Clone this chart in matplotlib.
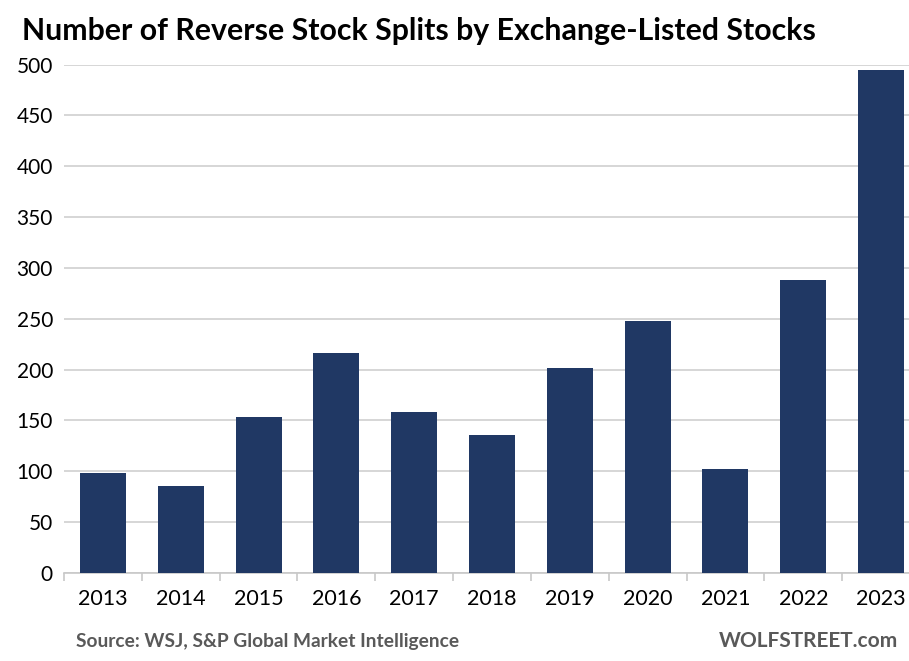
import matplotlib.pyplot as plt
import numpy as np

years = ['2013', '2014', '2015', '2016', '2017', '2018', '2019', '2020', '2021', '2022', '2023']
splits = [98, 85, 153, 216, 158, 136, 201, 248, 102, 288, 495]

plt.rcParams['font.family'] = ['Lato', 'DejaVu Sans']

fig = plt.figure(figsize=(9.09, 6.61), dpi=100)
# plot area runs a bit past the right edge, as in the cropped original
ax = fig.add_axes([64/909, 1 - 572.7/661, 856/909, (572.7-64.7)/661])

x = np.arange(len(years))
ax.bar(x, splits, width=0.59, color='#203864', zorder=3)

ax.set_xlim(-0.5, len(years) - 0.5)
ax.set_ylim(0, 500)
ax.set_yticks(np.arange(0, 501, 50))
ax.yaxis.grid(True, color='#d0d0d0', linewidth=1.2, zorder=0)
ax.set_axisbelow(True)

ax.set_xticks(x)
ax.set_xticklabels(years)
ax.set_xticks(np.arange(-0.5, len(years), 1), minor=True)
ax.tick_params(axis='x', which='major', length=0, pad=12, labelsize=15.5)
ax.tick_params(axis='x', which='minor', length=6, color='#c8c8c8', width=1.2)
ax.tick_params(axis='y', length=0, pad=8, labelsize=15)

for s in ['top', 'right', 'left']:
    ax.spines[s].set_visible(False)
ax.spines['bottom'].set_color('#c8c8c8')
ax.spines['bottom'].set_linewidth(1.2)

fig.text(22/909, 1 - 31/661, 'Number of Reverse Stock Splits by Exchange-Listed Stocks',
         fontsize=21.8, fontweight='bold', va='center', ha='left', color='black')
fig.text(76/909, 1 - 641/661, 'Source: WSJ, S&P Global Market Intelligence',
         fontsize=13.8, fontweight='bold', color='#595959', va='center', ha='left')
fig.text(898/909, 1 - 641/661, 'WOLFSTREET.com',
         fontsize=15, fontweight='bold', color='#595959', va='center', ha='right')

fig.savefig('out.png', dpi=100)
